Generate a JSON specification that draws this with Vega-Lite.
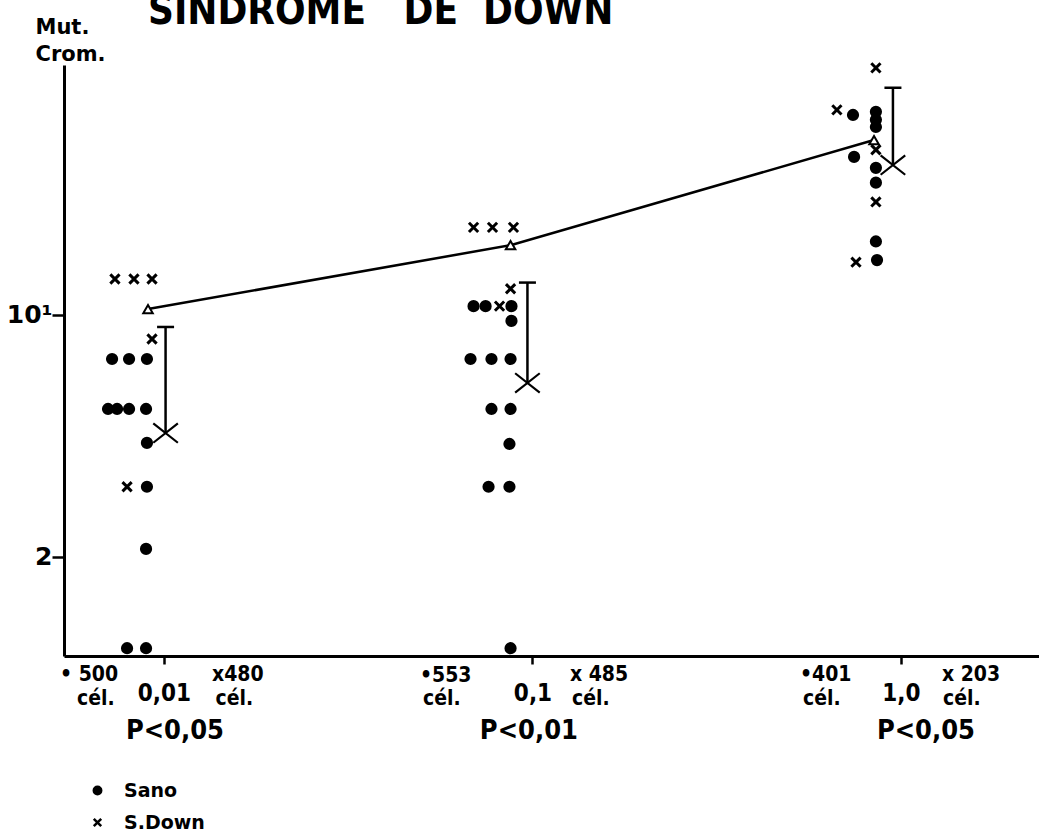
{
  "$schema": "https://vega.github.io/schema/vega-lite/v6.json",
  "width": 975,
  "height": 591,
  "autosize": {"type": "none"},
  "padding": {"left": 64, "top": 65, "right": 0, "bottom": 176},
  "background": "white",
  "title": {
    "text": "SINDROME\u00a0\u00a0\u00a0DE\u00a0\u00a0DOWN",
    "anchor": "start",
    "frame": "group",
    "dx": 84,
    "offset": -48,
    "baseline": "alphabetic",
    "font": "DejaVu Sans Condensed",
    "fontWeight": "bold",
    "fontSize": 40,
    "color": "black"
  },
  "config": {
    "view": {"stroke": null},
    "axis": {"grid": false, "domainColor": "black", "tickColor": "black", "labelColor": "black", "titleColor": "black"}
  },
  "datasets": {
    "media": [
      {"dosis": 0.00905, "mut": 10.4},
      {"dosis": 0.0872, "mut": 15.9},
      {"dosis": 0.845, "mut": 32.0}
    ],
    "barras": [
      {"dosis": 0.0101, "sup": 9.23, "inf": 4.56},
      {"dosis": 0.0969, "sup": 12.4, "inf": 6.36},
      {"dosis": 0.951, "sup": 45.3, "inf": 27.1}
    ],
    "puntos": [
      {"grupo": "Sano", "dosis": 0.00723, "mut": 7.46},
      {"grupo": "Sano", "dosis": 0.00804, "mut": 7.46},
      {"grupo": "Sano", "dosis": 0.00899, "mut": 7.46},
      {"grupo": "Sano", "dosis": 0.00705, "mut": 5.35},
      {"grupo": "Sano", "dosis": 0.00746, "mut": 5.35},
      {"grupo": "Sano", "dosis": 0.00804, "mut": 5.35},
      {"grupo": "Sano", "dosis": 0.00894, "mut": 5.35},
      {"grupo": "Sano", "dosis": 0.00899, "mut": 4.27},
      {"grupo": "Sano", "dosis": 0.00899, "mut": 3.19},
      {"grupo": "Sano", "dosis": 0.00894, "mut": 2.11},
      {"grupo": "Sano", "dosis": 0.00794, "mut": 1.09},
      {"grupo": "Sano", "dosis": 0.00894, "mut": 1.09},
      {"grupo": "S.Down", "dosis": 0.00736, "mut": 12.7},
      {"grupo": "S.Down", "dosis": 0.00829, "mut": 12.7},
      {"grupo": "S.Down", "dosis": 0.00928, "mut": 12.7},
      {"grupo": "S.Down", "dosis": 0.00928, "mut": 8.52},
      {"grupo": "S.Down", "dosis": 0.00794, "mut": 3.19},
      {"grupo": "Sano", "dosis": 0.0692, "mut": 10.6},
      {"grupo": "Sano", "dosis": 0.0746, "mut": 10.6},
      {"grupo": "Sano", "dosis": 0.0877, "mut": 10.6},
      {"grupo": "Sano", "dosis": 0.0877, "mut": 9.61},
      {"grupo": "Sano", "dosis": 0.0679, "mut": 7.46},
      {"grupo": "Sano", "dosis": 0.0774, "mut": 7.46},
      {"grupo": "Sano", "dosis": 0.0872, "mut": 7.46},
      {"grupo": "Sano", "dosis": 0.0774, "mut": 5.35},
      {"grupo": "Sano", "dosis": 0.0872, "mut": 5.35},
      {"grupo": "Sano", "dosis": 0.0866, "mut": 4.24},
      {"grupo": "Sano", "dosis": 0.076, "mut": 3.19},
      {"grupo": "Sano", "dosis": 0.0866, "mut": 3.19},
      {"grupo": "Sano", "dosis": 0.0872, "mut": 1.09},
      {"grupo": "S.Down", "dosis": 0.0692, "mut": 17.9},
      {"grupo": "S.Down", "dosis": 0.0779, "mut": 17.9},
      {"grupo": "S.Down", "dosis": 0.0888, "mut": 17.9},
      {"grupo": "S.Down", "dosis": 0.0872, "mut": 11.9},
      {"grupo": "S.Down", "dosis": 0.0814, "mut": 10.6},
      {"grupo": "Sano", "dosis": 0.741, "mut": 37.8},
      {"grupo": "Sano", "dosis": 0.855, "mut": 38.6},
      {"grupo": "Sano", "dosis": 0.855, "mut": 36.6},
      {"grupo": "Sano", "dosis": 0.855, "mut": 34.9},
      {"grupo": "Sano", "dosis": 0.746, "mut": 28.6},
      {"grupo": "Sano", "dosis": 0.855, "mut": 26.6},
      {"grupo": "Sano", "dosis": 0.855, "mut": 24.1},
      {"grupo": "Sano", "dosis": 0.855, "mut": 16.3},
      {"grupo": "Sano", "dosis": 0.861, "mut": 14.4},
      {"grupo": "S.Down", "dosis": 0.855, "mut": 51.7},
      {"grupo": "S.Down", "dosis": 0.67, "mut": 39.1},
      {"grupo": "S.Down", "dosis": 0.855, "mut": 30.0},
      {"grupo": "S.Down", "dosis": 0.855, "mut": 21.2},
      {"grupo": "S.Down", "dosis": 0.755, "mut": 14.2}
    ],
    "notas": [
      {"texto": "• 500", "dosis": 0.005222, "mut": 0.912},
      {"texto": "cél.", "dosis": 0.005805, "mut": 0.7775},
      {"texto": "x480", "dosis": 0.0135, "mut": 0.912},
      {"texto": "cél.", "dosis": 0.0138, "mut": 0.7775},
      {"texto": "•553", "dosis": 0.04951, "mut": 0.905},
      {"texto": "cél.", "dosis": 0.05045, "mut": 0.7775},
      {"texto": "x 485", "dosis": 0.1264, "mut": 0.912},
      {"texto": "cél.", "dosis": 0.128, "mut": 0.7775},
      {"texto": "•401", "dosis": 0.532, "mut": 0.912},
      {"texto": "cél.", "dosis": 0.542, "mut": 0.7775},
      {"texto": "x 203", "dosis": 1.292, "mut": 0.912},
      {"texto": "cél.", "dosis": 1.3, "mut": 0.7775}
    ],
    "pvalores": [
      {"texto": "P<0,05", "dosis": 0.01071, "mut": 0.6286},
      {"texto": "P<0,01", "dosis": 0.0978, "mut": 0.6286},
      {"texto": "P<0,05", "dosis": 1.169, "mut": 0.6286}
    ]
  },
  "layer": [
    {
      "data": {"name": "media"},
      "mark": {"type": "line", "color": "black", "strokeWidth": 2.5},
      "encoding": {
        "x": {
          "field": "dosis",
          "type": "quantitative",
          "scale": {"type": "log", "domain": [0.005354, 2.369], "nice": false},
          "axis": {
            "title": null,
            "values": [0.01, 0.1, 1],
            "labelExpr": "datum.value < 0.05 ? '0,01' : (datum.value < 0.5 ? '0,1' : '1,0')",
            "domainWidth": 3,
            "tickWidth": 2.5,
            "tickSize": 8,
            "labelFont": "DejaVu Sans Condensed",
            "labelFontWeight": "bold",
            "labelFontSize": 24,
            "labelPadding": 17,
            "labelFlush": false,
            "labelOverlap": false
          }
        },
        "y": {
          "field": "mut",
          "type": "quantitative",
          "scale": {"type": "log", "domain": [1.035, 52.7], "nice": false},
          "axis": {
            "title": ["Mut.", "Crom."],
            "titleAngle": 0,
            "titleAlign": "left",
            "titleBaseline": "alphabetic",
            "titleX": -29,
            "titleY": -32,
            "titleFont": "DejaVu Sans",
            "titleFontSize": 21,
            "titleFontWeight": "bold",
            "titleLineHeight": 27,
            "values": [2, 10],
            "labelExpr": "datum.value == 10 ? '10¹' : '2'",
            "domainWidth": 3,
            "tickWidth": 2.5,
            "tickSize": 12,
            "labelFont": "DejaVu Sans",
            "labelFontWeight": "bold",
            "labelFontSize": 25,
            "labelPadding": 0
          }
        }
      }
    },
    {
      "data": {"name": "barras"},
      "mark": {"type": "rule", "color": "black", "strokeWidth": 2.5},
      "encoding": {
        "x": {"field": "dosis", "type": "quantitative"},
        "y": {"field": "sup", "type": "quantitative"},
        "y2": {"field": "inf"}
      }
    },
    {
      "data": {"name": "barras"},
      "mark": {"type": "point", "shape": "M-1,0L1,0", "size": 289, "stroke": "black", "strokeWidth": 2.5, "opacity": 1},
      "encoding": {
        "x": {"field": "dosis", "type": "quantitative"},
        "y": {"field": "sup", "type": "quantitative"}
      }
    },
    {
      "data": {"name": "barras"},
      "mark": {"type": "point", "shape": "M-1.2,-0.95L1.2,0.95M1.2,-0.95L-1.2,0.95", "size": 420, "stroke": "black", "strokeWidth": 2.2, "opacity": 1},
      "encoding": {
        "x": {"field": "dosis", "type": "quantitative"},
        "y": {"field": "inf", "type": "quantitative"}
      }
    },
    {
      "data": {"name": "puntos"},
      "mark": {"type": "point", "filled": false, "size": 85, "color": "black", "strokeWidth": 3, "opacity": 1},
      "encoding": {
        "x": {"field": "dosis", "type": "quantitative"},
        "y": {"field": "mut", "type": "quantitative"},
        "shape": {
          "field": "grupo",
          "type": "nominal",
          "scale": {"domain": ["Sano", "S.Down"], "range": ["circle", "M-1,-1L1,1M1,-1L-1,1"]},
          "legend": {
            "title": null,
            "orient": "none",
            "legendX": 24,
            "legendY": 716,
            "padding": 0,
            "symbolSize": 55,
            "symbolStrokeWidth": 2.5,
            "symbolOpacity": 1,
            "labelFont": "DejaVu Sans",
            "labelFontWeight": "bold",
            "labelFontSize": 19,
            "labelColor": "black",
            "labelOffset": 17,
            "rowPadding": 12
          }
        },
        "fill": {
          "field": "grupo",
          "type": "nominal",
          "scale": {"domain": ["Sano", "S.Down"], "range": ["black", "transparent"]},
          "legend": {
            "title": null,
            "orient": "none",
            "legendX": 24,
            "legendY": 716,
            "padding": 0,
            "symbolSize": 55,
            "symbolStrokeWidth": 2.5,
            "symbolOpacity": 1,
            "labelFont": "DejaVu Sans",
            "labelFontWeight": "bold",
            "labelFontSize": 19,
            "labelColor": "black",
            "labelOffset": 17,
            "rowPadding": 12
          }
        }
      }
    },
    {
      "data": {"name": "media"},
      "mark": {"type": "point", "shape": "triangle-up", "size": 90, "filled": true, "fill": "white", "stroke": "black", "strokeWidth": 2, "opacity": 1},
      "encoding": {
        "x": {"field": "dosis", "type": "quantitative"},
        "y": {"field": "mut", "type": "quantitative"}
      }
    },
    {
      "data": {"name": "notas"},
      "mark": {"type": "text", "align": "left", "baseline": "middle", "font": "DejaVu Sans Condensed", "fontWeight": "bold", "fontSize": 21, "color": "black"},
      "encoding": {
        "x": {"field": "dosis", "type": "quantitative"},
        "y": {"field": "mut", "type": "quantitative"},
        "text": {"field": "texto"}
      }
    },
    {
      "data": {"name": "pvalores"},
      "mark": {"type": "text", "align": "center", "baseline": "middle", "font": "DejaVu Sans Condensed", "fontWeight": "bold", "fontSize": 27, "color": "black"},
      "encoding": {
        "x": {"field": "dosis", "type": "quantitative"},
        "y": {"field": "mut", "type": "quantitative"},
        "text": {"field": "texto"}
      }
    }
  ]
}
